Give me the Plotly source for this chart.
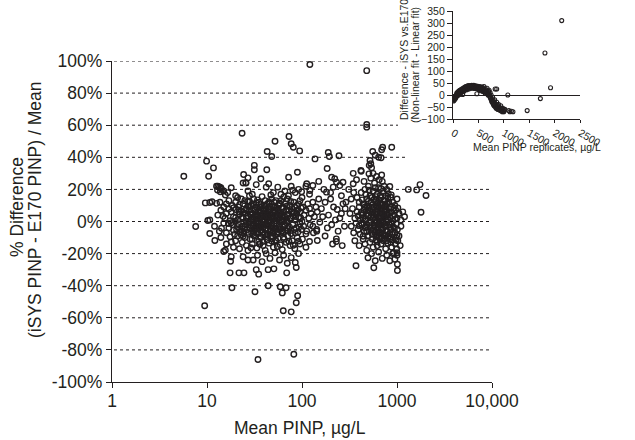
import plotly.graph_objects as go

# ---------------- DATA ----------------
x_tick_vals = [1, 10, 100, 1000, 10000]
x_tick_text = ["1", "10", "100", "1000", "10,000"]
y_tick_vals = [-100, -80, -60, -40, -20, 0, 20, 40, 60, 80, 100]
y_tick_text = ["-100%", "-80%", "-60%", "-40%", "-20%", "0%", "20%", "40%", "60%", "80%", "100%"]

inset_x_ticks = [0, 500, 1000, 1500, 2000, 2500]
inset_y_ticks = [-100, -50, 0, 50, 100, 150, 200, 250, 300, 350]

# main plot: (mean PINP ug/L, % difference)
left_upper = [(12.6, 22), (13.5, 21.5), (14.2, 20), (15, 19), (16.5, 18), (18, 21), (20, 16), (24, 24),
              (25.7, 24), (27, 19), (30, 17), (33, 23), (36.9, 26.6), (42, 21.4), (44.6, 23.5), (50, 18),
              (55.6, 21.4), (60, 17), (66, 19), (72, 16), (77, 22), (85, 18), (92, 20), (100, 15),
              (110, 22), (120, 17), (13, 22), (14, 21), (12.9, 19.6), (13.8, 18.5), (15.6, 16.5), (21, 15),
              (28, 16), (38, 15.5), (47, 16.5), (64, 15.2), (80, 19.5), (99, 18.6)]
left_mid_pos = [(9.6, 11.6), (10.7, 11.8), (12.6, 11.3), (13.7, 12), (15, 9), (17, 13), (18.5, 10), (20, 12),
                (21.5, 9), (23, 14), (24, 11), (26, 8), (28, 12.5), (29, 10), (31, 14), (33, 9), (35, 12),
                (37, 10.5), (39, 8), (41, 13), (43, 11), (46, 9.5), (48, 14), (51, 12), (54, 8.5), (57, 10),
                (60, 13), (63, 9), (67, 11), (70, 14), (74, 10), (78, 8), (82, 12), (88, 10), (95, 13),
                (102, 9), (115, 11), (130, 12), (140, 9), (11.3, 12.3), (16, 11), (19, 8.5), (22, 10.5),
                (25, 13), (27, 9.5), (30, 11), (32, 8.2), (34, 13.5), (36, 9), (40, 10), (45, 12), (50, 9),
                (53, 13), (58, 11.5), (62, 8.2), (69, 9.5), (76, 12.5), (84, 9), (92, 11), (98, 8.4)]
left_zero_pos = [(10.7, 1), (13, 4), (14, 7), (15.5, 2), (16, 5), (17.5, 0.5), (18, 6), (19, 3), (20, 7.5),
                 (21, 1), (22, 4.5), (23, 6.5), (24, 2), (25, 5), (26, 0), (27, 3.5), (28, 7), (29, 1.5),
                 (30, 5), (31, 3), (32, 7), (33, 0.5), (34, 4), (35, 6), (36, 2), (37, 5.5), (38, 1),
                 (39, 3.5), (40, 7), (41, 0), (42, 5), (43, 2.5), (44, 6), (45, 1), (46, 4), (47, 7.5),
                 (48, 2), (49, 5.5), (50, 3), (52, 6.5), (53, 0.5), (55, 4), (56, 7), (58, 2), (60, 5),
                 (62, 1), (64, 6), (66, 3), (68, 7), (70, 0.5), (72, 4.5), (75, 2), (78, 6), (80, 3.5),
                 (84, 1), (88, 5), (92, 2.5), (96, 6), (100, 0), (105, 4), (110, 7), (118, 2), (125, 5),
                 (135, 3), (145, 6), (14.8, 3.2), (17, 7.8), (19.8, 0.2), (21.8, 6.1), (23.6, 2.8),
                 (25.8, 7.2), (28.6, 4.4), (31.6, 1.2), (34.8, 6.6), (37.8, 3), (40.6, 5.4), (44.2, 0.8),
                 (47.5, 3.8), (51, 7.2), (54, 2.4), (57.5, 5.2), (61, 3.4), (65, 0.9), (69, 4.6),
                 (73, 6.8), (77, 1.8), (82, 5.6), (86, 3.1), (90, 7), (97, 2.2)]
left_zero_neg = [(12, -3), (13.5, -6), (15, -1), (16, -7), (17, -4), (18.5, -2), (19.5, -8), (20.5, -5),
                 (21.5, -1.5), (22.5, -6.5), (23.5, -3), (24.5, -7.5), (25.5, -2), (26.5, -5), (27.5, -0.5),
                 (28.5, -4), (29.5, -7), (30.5, -2.5), (31.5, -6), (32.5, -1), (33.5, -4.5), (34.5, -7.5),
                 (35.5, -3), (36.5, -5.5), (37.5, -1.5), (38.5, -6.5), (39.5, -3.5), (40.5, -8), (42, -2),
                 (43.5, -5), (45, -0.5), (46.5, -6), (48, -3), (49.5, -7), (51, -1.5), (53, -4.5),
                 (55, -6.5), (57, -2.5), (59, -5), (61, -0.5), (63, -7), (65, -3), (67, -5.5), (69, -1),
                 (71, -6), (74, -3.5), (77, -7.5), (80, -2), (83, -5), (87, -4), (91, -6.5), (95, -1.5),
                 (99, -5), (104, -3), (112, -6), (122, -2), (132, -7), (143, -5), (7.6, -3.1), (10.2, 0.6),
                 (10.7, -7.5), (14.2, -4.2), (16.8, -1.2), (19, -5.4), (21, -3.2), (23, -8.4), (25, -4.6),
                 (27, -6.8), (29, -2.6), (31, -4.8), (33, -7.2), (35, -1.2), (37, -3.8), (39, -8.2),
                 (41, -4.4), (44, -2.2), (47, -5.2), (50, -4.2), (54, -7.6), (58, -3.6), (62, -5.8),
                 (66, -1.8), (70, -4.2), (76, -5.6), (85, -7.2), (93, -3.4)]
left_core = [(26, 2.2), (27.5, -1.8), (29, 4.8), (30.5, 0.8), (32, -3.6), (33.5, 2.6), (35, -0.4),
             (36.5, 4.2), (38, -2.8), (39.5, 1.4), (41, -5.2), (42.5, 3.4), (44, -1), (45.5, 5.6), (47, 0.4),
             (48.5, -3.8), (50, 1.8), (51.5, -6), (53, 4), (54.5, -1.4), (56, 2.8), (58, -4.6), (60, 0.2),
             (25, -3.4), (28, 9.2), (31, -8.8), (34, 8.6), (37, -9.6), (40, 9.4), (43, -7.8), (46, 7.8),
             (49, -9.2), (52, 9.6), (55, -8), (24, 5.8), (22, -4.4), (20, 2.4), (18, -0.8), (62, 3.8),
             (65, -2.4), (29.8, -11), (33, 11.5), (38.8, -12.5), (44.8, 12), (52.5, -11.6), (58.5, 10.8),
             (26.8, 12.4), (35.8, -13.8), (41.8, 7), (47.8, -10.6)]
left_lower = [(12.1, -11.8), (14, -10), (15, -18.7), (16, -14), (17.5, -9.5), (19, -16), (20, -12), (21, -9),
              (22, -17), (23.5, -13), (25, -10), (26, -15), (27, -18), (28.5, -11), (30, -14), (32, -9),
              (33.5, -16.5), (35, -12.5), (37, -10), (39, -15), (41, -18), (43, -11.5), (45, -13.5),
              (47, -9.5), (50, -16), (53, -12), (56, -10.5), (59, -14.5), (62, -17.5), (65, -11), (68, -13),
              (71, -9), (75, -15), (79, -12), (84, -17), (89, -10), (95, -14), (101, -11), (110, -16),
              (120, -12.5), (15.6, -17.9), (18, -12.8), (24, -9.2), (29, -16.4), (36, -14.2), (42, -9.4),
              (48, -12.2), (55, -15.6), (64, -9.8), (73, -12.4), (81, -14.8), (92, -12.2)]
left_low2 = [(17.7, -24.8), (18, -22), (24, -22), (27, -24), (30.6, -24), (34, -21), (38, -25), (42, -20),
             (46, -23), (52, -19.5), (58, -24), (64, -21), (70, -26), (77, -22.5), (85, -25.5), (92, -20)]
left_outliers = [(17.5, -32), (21.7, -32), (24.5, -32), (18.3, -41.3), (32, -43.8), (33, -30), (35, -32.8),
                 (44, -40), (44, -30), (50.6, -29.5), (59, -40.7), (62, -44.5), (68, -41.3), (69, -32),
                 (87, -28.7), (90, -46.3), (87, -50.6), (63.5, -55.6), (77, -56.3), (34.4, -86), (82, -82.7),
                 (9.45, -52.5), (23.4, 55), (52, 50), (73, 53), (77, 48.4), (81, 46.3), (94.5, 44),
                 (43, 43.6), (48, 40.5), (9.9, 37.6), (11.7, 33.4), (5.7, 28.2), (10.4, 28.2), (31.5, 35),
                 (31.5, 32.2), (24.3, 29.3), (27, 27.2), (42.6, 32.2), (72.3, 27.6), (89.5, 30.7),
                 (25.7, 24.1)]
middle = [(121, 97.8), (137, 39), (189, 43), (194, 40.5), (245, 41), (184, 33), (205, 27.6), (221, 26.6),
          (231, 24.5), (270, 24.5), (250, 22.4), (213, 21.4), (181, 18.3), (112, 23.5), (130, 22.4),
          (121, 19.3), (145, -11.8), (230, -10.8), (230, -12.5), (265, -15), (143, -6), (154, -0.5),
          (110, -7.7), (160, 8), (175, 12), (190, 4), (200, 14), (215, 9), (235, 7.5), (250, 2), (270, 11),
          (150, 14), (165, 3), (185, -4), (205, -2), (225, 1), (240, -6), (260, 5), (280, -3), (170, 20),
          (200, 18), (260, 16), (150, 25), (120, 8), (130, -3), (175, -9), (210, -14), (285, 8)]
right_upper = [(380, 15), (400, 12), (420, 18), (440, 11), (460, 20), (480, 14), (500, 22), (520, 16),
               (540, 12), (560, 19), (580, 24), (600, 13), (620, 17), (640, 21), (660, 11), (680, 15),
               (700, 25), (720, 18), (750, 13), (780, 20), (810, 17.3), (840, 21.8), (860, 15.1), (900, 12),
               (950, 10), (1000, 14), (450, 25), (530, 27), (610, 28), (560, 30), (690, 29), (350, 18),
               (330, 14), (310, 20), (290, 12), (346, 30), (375, 26), (346, 23.5), (420, 31.3), (470, 17),
               (510, 19.5), (590, 21), (650, 26), (730, 22), (790, 11), (430, 13.5), (545, 15), (625, 11.5),
               (760, 16), (680, 20.5)]
right_zero_pos = [(320, 5), (340, 8), (360, 2), (380, 6), (400, 9), (410, 1), (430, 4), (450, 7), (470, 0.5),
                  (490, 5), (510, 8.5), (530, 3), (550, 6), (570, 9), (590, 1), (610, 4.5), (630, 7.5),
                  (650, 2), (670, 5.5), (690, 8), (710, 0), (730, 3.5), (750, 6.5), (770, 1.5), (790, 4),
                  (820, 8), (850, 2.5), (880, 6), (910, 0.5), (940, 4), (970, 7), (1000, 2), (1050, 5),
                  (1100, 1), (1150, 6), (1200, 3), (480, 9.5), (600, 9.8), (660, 7), (740, 9), (420, 5.5),
                  (560, 2.5), (800, 1), (700, 4.8), (520, 6.2), (440, 2.2), (460, 9), (500, 3.6), (540, 8),
                  (580, 5.2), (620, 2.8), (640, 9.2), (680, 3), (720, 6.8), (760, 4.2), (830, 5.5), (870, 9),
                  (960, 1.5), (1020, 8.5), (390, 3.4)]
right_zero_neg = [(330, -3), (350, -7), (370, -1), (390, -5), (410, -8), (430, -2), (450, -6), (470, -3.5),
                  (490, -9), (510, -1), (530, -5.5), (550, -8), (570, -2.5), (590, -6.5), (610, -0.5),
                  (630, -4), (650, -9.5), (670, -2), (690, -7), (710, -4.5), (730, -1), (750, -8.5),
                  (770, -3), (790, -6), (810, -9), (830, -2), (860, -5), (890, -8), (920, -3.5), (950, -7),
                  (980, -1.5), (1010, -5), (1050, -9), (1100, -3), (460, -4), (580, -3), (700, -5.5),
                  (880, -1), (620, -8.2), (400, -2.6), (440, -9.2), (480, -6.4), (520, -3.2), (560, -5.2),
                  (600, -9), (640, -1.4), (680, -4.6), (720, -8.8), (760, -5.8), (840, -7.4), (940, -4.2),
                  (1000, -8.6)]
right_core = [(420, -1), (440, 5), (460, 1.5), (480, -2), (500, 7.2), (520, 0.8), (540, -3.8), (560, 4.4),
              (580, -0.6), (600, 6), (620, 0), (640, -2.2), (660, 3.2), (680, -0.5), (700, 8.4), (720, 2),
              (740, -2.8), (760, 7.4), (780, -0.4), (800, 4.6), (450, 10.5), (500, 12.6), (550, 10.2),
              (600, 15.5), (650, 13.4), (700, 10.6), (750, 11), (800, 14.6), (550, -11), (620, -12.6),
              (700, -10.2), (780, -12), (860, -9.6), (900, -11.5), (500, -8.8), (650, -6.4), (850, -3.6),
              (900, 3.6), (930, 8.2), (980, -11.6), (530, 11.8), (575, 13.6), (615, 9.4), (665, 16.2),
              (725, 13), (770, 9.6), (820, 12), (870, 16.6), (590, -7.4), (760, -8.4)]
right_lower = [(360, -12), (400, -15), (440, -11), (480, -18), (520, -13), (560, -16), (600, -11.5),
               (640, -19), (680, -14), (720, -12), (760, -17), (800, -13.5), (840, -11), (880, -16),
               (920, -19.5), (960, -14), (1000, -19.5), (1000, -21), (990, -17), (1020, -12), (1080, -15),
               (900, -20), (780, -21), (370, -27.6), (570, -28.8), (590, -24.5), (495, -22.6), (840, -24.5),
               (1010, -26.6), (1010, -30.5), (700, -23), (950, -23.5), (460, -14), (540, -20), (620, -15),
               (740, -10.5), (860, -13), (970, -10), (660, -11)]
right_outliers = [(480, 94), (480, 60.4), (480, 58.8), (555, 43.6), (690, 44.7), (880, 46.3), (706, 46.3),
                  (590, 41.3), (640, 40), (680, 39.7), (520, 38), (530, 36), (510, 35), (540, 33.5),
                  (417, 31.8), (507, 29.7), (1315, 20), (1610, 19.7), (1747, 23), (2020, 16.2), (1790, 5.8)]

# inset: (mean PINP replicates ug/L, difference non-linear fit - linear fit)
inset_arc = [(5, -20), (10, -18), (15, -15), (20, -22), (25, -12), (30, -16), (35, -8), (40, -14), (45, -5),
             (50, -10), (55, -2), (60, -8), (70, 0), (80, 5), (90, -3), (100, 10), (110, 3), (120, 12),
             (130, 8), (140, 15), (150, 10), (160, 18), (170, 14), (180, 20), (190, 2), (200, 22), (210, 17),
             (220, 25), (240, 30), (250, 24), (260, 32), (280, 28), (300, 35), (320, 30), (340, 38),
             (360, 32), (380, 37), (400, 33), (420, 36), (440, 30), (460, 34), (470, 5), (480, 28), (500, 31),
             (520, 25), (540, 30), (560, 22), (580, 28), (600, 20), (610, 35), (620, 15), (640, 25), (650, 10),
             (660, 20), (680, 5), (700, 15), (720, -5), (730, 10), (740, -15), (760, -25), (780, -10),
             (800, -35), (820, -20), (830, 25), (840, -45), (860, 25), (860, -30), (880, -50), (900, -40),
             (920, -60), (940, -45), (960, -65), (980, -55), (1000, -70), (1020, -60), (1080, 0), (1100, -65),
             (1120, -70), (1150, -68), (1180, -70), (8, -25), (18, -10), (28, -20), (38, -12), (48, -15),
             (65, -5), (85, 0), (105, 5), (125, 2), (145, 8), (165, 12), (185, 14), (205, 15), (230, 20),
             (270, 22), (290, 38), (310, 25), (330, 36), (350, 28), (370, 40), (390, 28), (410, 40),
             (430, 27), (450, 38), (490, 36), (510, 22), (530, 35), (550, 18), (570, 33), (590, 15),
             (630, 8), (670, 28), (690, 0), (710, 20), (750, 0), (770, -30), (790, -20), (810, -45),
             (850, -55), (870, -40), (890, -60), (910, -50), (930, -65), (950, -55), (970, -70), (990, -60),
             (1010, -65), (12, -12), (32, -6), (52, -4), (75, 8), (95, 12), (115, 16), (135, 20), (155, 22),
             (175, 25), (195, 27), (215, 30), (235, 33), (255, 35), (275, 36), (295, 30), (315, 39),
             (335, 32), (355, 36), (375, 34), (395, 38), (415, 30), (435, 35), (455, 28), (475, 33),
             (495, 26), (515, 32), (535, 24), (555, 28), (575, 20), (595, 28), (615, 22), (635, 18),
             (655, 14), (675, 12), (695, 6), (715, 2), (735, -8), (755, -18), (775, -22), (795, -40),
             (815, -30), (835, -50), (855, -45), (875, -58), (895, -52)]
inset_outliers = [(1460, -65), (1720, -15), (1810, 175), (1920, 30), (2140, 310)]

# ---------------- FIGURE ----------------
W, H = 635, 440
INK = "#231f20"
FONT = "Liberation Sans, Arial, sans-serif"

main_groups = [left_upper, left_mid_pos, left_zero_pos, left_zero_neg, left_core, left_lower, left_low2,
               left_outliers, middle, right_upper, right_zero_pos, right_zero_neg, right_core, right_lower,
               right_outliers]
main_pts = [p for g in main_groups for p in g]
inset_pts = inset_arc + inset_outliers

fig = go.Figure()
fig.add_trace(go.Scatter(
    x=[p[0] for p in main_pts], y=[p[1] for p in main_pts], mode="markers",
    marker=dict(symbol="circle-open", size=5.5, color=INK, line=dict(width=1.4, color=INK)),
    xaxis="x", yaxis="y", showlegend=False, hoverinfo="skip"))
fig.add_trace(go.Scatter(
    x=[p[0] for p in inset_pts], y=[p[1] for p in inset_pts], mode="markers",
    marker=dict(symbol="circle-open", size=4, color=INK, line=dict(width=1.1, color=INK)),
    xaxis="x2", yaxis="y2", showlegend=False, hoverinfo="skip"))


def px_x(px):
    return px / W


def px_y(py):
    return 1 - py / H


main_left, main_right, main_top, main_bottom = 112, 492, 61, 382
ins_left, ins_right, ins_top, ins_bottom = 453, 580, 11, 119

axis_common = dict(showline=True, linecolor=INK, linewidth=1.3, ticks="outside", tickcolor=INK,
                   tickwidth=1, showgrid=False, zeroline=False, automargin=False)

fig.update_layout(
    width=W, height=H, margin=dict(l=0, r=0, t=0, b=0),
    paper_bgcolor="white", plot_bgcolor="rgba(0,0,0,0)",
    font=dict(family=FONT, color=INK),
    xaxis=dict(type="log", range=[0, 4], domain=[px_x(main_left), px_x(main_right)], anchor="y",
               tickvals=x_tick_vals, ticktext=x_tick_text, ticklen=5, ticklabelstandoff=-2,
               tickfont=dict(size=17.5, family=FONT, color=INK), **axis_common),
    yaxis=dict(range=[-100, 100], domain=[px_y(main_bottom), px_y(main_top)], anchor="x",
               tickvals=y_tick_vals, ticktext=y_tick_text, ticklen=5,
               tickfont=dict(size=17.5, family=FONT, color=INK), **axis_common),
    xaxis2=dict(range=[0, 2500], domain=[px_x(ins_left), px_x(ins_right)], anchor="y2",
                tickvals=inset_x_ticks, ticklen=3, tickfont=dict(size=10.5, family=FONT, color=INK),
                **axis_common),
    yaxis2=dict(range=[-100, 350], domain=[px_y(ins_bottom), px_y(ins_top)], anchor="x2",
                tickvals=inset_y_ticks, ticklen=5, tickfont=dict(size=10.5, family=FONT, color=INK),
                **{**axis_common, "zeroline": True}, zerolinecolor=INK, zerolinewidth=1.2),
)

# dashed horizontal guide lines (cut short where the inset sits)
for lvl in y_tick_vals[1:]:
    end_px = 398 if lvl >= 60 else (408 if lvl == 40 else main_right)
    fig.add_shape(type="line", xref="paper", yref="y", x0=px_x(main_left + 2), x1=px_x(end_px),
                  y0=lvl, y1=lvl, line=dict(color=INK, width=1, dash="3px,3px"), layer="below")


def title(text, x, y, size, angle=0):
    fig.add_annotation(text=text, xref="paper", yref="paper", x=px_x(x), y=px_y(y),
                       xanchor="center", yanchor="middle", textangle=angle, showarrow=False,
                       font=dict(size=size, family=FONT, color=INK))


title("Mean PINP, \u00b5g/L", 300, 428, 17.5)
title("% Difference", 17, 207, 17.5, -90)
title("(iSYS PINP - E170 PINP) / Mean", 35, 210, 17.5, -90)
title("Mean PINP replicates, \u00b5g/L", 537, 147, 10.5)
title("Difference - iSYS vs.E170", 404, 60, 10.5, -90)
title("(Non-linear fit - Linear fit)", 415, 65, 10.5, -90)

# the page body has a default 8px margin; remove it so the figure sits at the window origin
fig.write_html("out.html", config={"displayModeBar": False},
               post_script="document.body.style.margin='0px';")
